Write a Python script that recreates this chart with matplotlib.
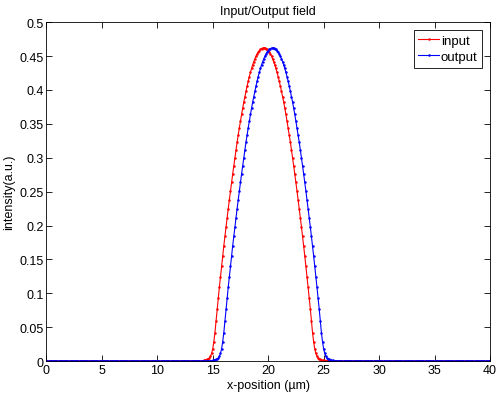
import numpy as np
import matplotlib
matplotlib.use("Agg")
import matplotlib.pyplot as plt

plt.rcParams['font.family'] = ['Liberation Sans', 'DejaVu Sans']

# x grid (um), step 0.1
x = np.round(np.arange(0, 40.0001, 0.1), 1)

input_start = 14.0
input_core = [
    0.0005, 0.0007, 0.001, 0.0015, 0.002, 0.0025, 0.003, 0.0045, 0.007, 0.0115,
    0.018, 0.0285, 0.042, 0.059, 0.077, 0.093, 0.109, 0.1245, 0.140, 0.155,
    0.170, 0.184, 0.198, 0.2115, 0.225, 0.238, 0.251, 0.2637, 0.276, 0.288,
    0.300, 0.3117, 0.323, 0.3337, 0.344, 0.354, 0.364, 0.373, 0.382, 0.390,
    0.398, 0.4057, 0.413, 0.4197, 0.426, 0.4317, 0.437, 0.4417, 0.446, 0.4497,
    0.453, 0.4557, 0.458, 0.4597, 0.461, 0.4618, 0.462,
    0.4618, 0.461, 0.4597, 0.458, 0.4557, 0.453, 0.4497, 0.446, 0.4417, 0.437,
    0.4317, 0.426, 0.4197, 0.413, 0.4057, 0.398, 0.390, 0.382, 0.373, 0.364,
    0.354, 0.344, 0.3337, 0.323, 0.3117, 0.300, 0.288, 0.276, 0.2637, 0.251,
    0.238, 0.225, 0.2115, 0.198, 0.184, 0.170, 0.155, 0.140, 0.1245, 0.109,
    0.093, 0.077, 0.059, 0.042, 0.0285, 0.018, 0.0115, 0.007, 0.0045, 0.003,
    0.0025, 0.002, 0.0015, 0.001, 0.0007, 0.0005,
]

# output field, from x = 14.8 to 26.0 (step 0.1)
output_start = 14.8
output_core = [
    0.0005, 0.0007, 0.001, 0.0015, 0.002, 0.0025, 0.003, 0.0045, 0.007, 0.0115,
    0.018, 0.0285, 0.042, 0.059, 0.077, 0.093, 0.109, 0.1245, 0.140, 0.155,
    0.170, 0.184, 0.198, 0.2115, 0.225, 0.238, 0.251, 0.2637, 0.276, 0.288,
    0.300, 0.3117, 0.323, 0.3337, 0.344, 0.354, 0.364, 0.373, 0.382, 0.390,
    0.398, 0.4057, 0.413, 0.4197, 0.426, 0.4317, 0.437, 0.4417, 0.446, 0.4497,
    0.453, 0.4557, 0.458, 0.4597, 0.461, 0.4618, 0.462,
    0.4618, 0.461, 0.4597, 0.458, 0.4557, 0.453, 0.4497, 0.446, 0.4417, 0.437,
    0.4317, 0.426, 0.4197, 0.413, 0.4057, 0.398, 0.390, 0.382, 0.373, 0.364,
    0.354, 0.344, 0.3337, 0.323, 0.3117, 0.300, 0.288, 0.276, 0.2637, 0.251,
    0.238, 0.225, 0.2115, 0.198, 0.184, 0.170, 0.155, 0.140, 0.1245, 0.109,
    0.093, 0.077, 0.059, 0.042, 0.0285, 0.018, 0.0115, 0.007, 0.0045, 0.003,
    0.0025, 0.002, 0.0015, 0.001, 0.0007, 0.0005,
]

# zero everywhere else
input_field = np.zeros(len(x))
i0 = int(round(input_start * 10))
input_field[i0:i0 + len(input_core)] = input_core
output_field = np.zeros(len(x))
o0 = int(round(output_start * 10))
output_field[o0:o0 + len(output_core)] = output_core

xticks = [0, 5, 10, 15, 20, 25, 30, 35, 40]
yticks = [0, 0.05, 0.1, 0.15, 0.2, 0.25, 0.3, 0.35, 0.4, 0.45, 0.5]
ytick_labels = ["0", "0.05", "0.1", "0.15", "0.2", "0.25", "0.3", "0.35", "0.4", "0.45", "0.5"]

fig = plt.figure(figsize=(4.98, 4.06), dpi=100)
ax = fig.add_axes([0.093, 0.108, 0.891, 0.835])

ax.plot(x, input_field, c="red", linewidth=0.8, marker='.', markersize=1.6, label="input")
ax.plot(x, output_field, c="blue", linewidth=0.8, marker='.', markersize=1.6, label="output")

ax.set_xlim(0, 40)
ax.set_ylim(0, 0.5)
ax.set_xticks(xticks)
ax.set_yticks(yticks)
ax.set_yticklabels(ytick_labels)
ax.tick_params(direction="in", length=4, width=0.6, top=True, right=True,
               labelsize=9, pad=2)
for s in ax.spines.values():
    s.set_linewidth(0.6)

ax.set_title("Input/Output field", fontsize=9, pad=6)
ax.set_xlabel("x-position (µm)", fontsize=9, labelpad=2)
ax.set_ylabel("intensity(a.u.)", fontsize=9, labelpad=3)

leg = ax.legend(loc="upper right", fontsize=9.5, fancybox=False, framealpha=1,
                edgecolor="black", handlelength=1.6, handletextpad=0.1,
                borderpad=0.35, labelspacing=0.3, borderaxespad=0.6)
leg.get_frame().set_linewidth(0.6)

fig.savefig("out.png", dpi=100)
